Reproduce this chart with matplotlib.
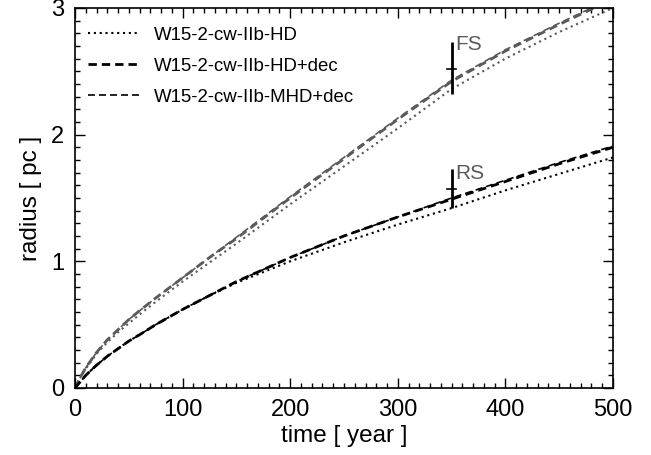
import matplotlib
matplotlib.use("Agg")
import matplotlib.pyplot as plt
from matplotlib.ticker import MultipleLocator

plt.rcParams['font.family'] = ['Liberation Sans', 'DejaVu Sans']

# time [year]
t = [0, 3, 6, 10, 15, 20, 30, 40, 50, 60, 75, 100, 125, 150, 200, 250, 300, 350, 400, 450, 500]
# forward shock radius [pc]
fs_hd = [0, 0.05, 0.10, 0.15, 0.21, 0.27, 0.36, 0.44, 0.51, 0.58, 0.68, 0.84, 0.99, 1.14, 1.45, 1.75, 2.05, 2.36, 2.60, 2.81, 3.00]
fs_hd_dec = [0, 0.05, 0.10, 0.16, 0.22, 0.28, 0.38, 0.46, 0.54, 0.61, 0.71, 0.87, 1.03, 1.18, 1.50, 1.81, 2.12, 2.42, 2.66, 2.87, 3.07]
fs_mhd_dec = [0, 0.05, 0.10, 0.16, 0.22, 0.28, 0.38, 0.46, 0.54, 0.61, 0.71, 0.87, 1.03, 1.19, 1.51, 1.82, 2.13, 2.43, 2.67, 2.88, 3.08]
# reverse shock radius [pc]
rs_hd = [0, 0.03, 0.06, 0.10, 0.14, 0.18, 0.25, 0.31, 0.37, 0.42, 0.50, 0.62, 0.73, 0.83, 1.00, 1.15, 1.29, 1.42, 1.56, 1.69, 1.82]
rs_hd_dec = [0, 0.03, 0.06, 0.10, 0.14, 0.18, 0.25, 0.31, 0.37, 0.42, 0.50, 0.62, 0.73, 0.84, 1.03, 1.20, 1.35, 1.49, 1.63, 1.77, 1.90]
rs_mhd_dec = [0, 0.03, 0.06, 0.10, 0.14, 0.18, 0.25, 0.31, 0.37, 0.42, 0.50, 0.62, 0.73, 0.84, 1.03, 1.20, 1.35, 1.50, 1.64, 1.78, 1.91]

labels = ['W15-2-cw-IIb-HD', 'W15-2-cw-IIb-HD+dec', 'W15-2-cw-IIb-MHD+dec']

# observed shock radii with ranges
obs_t = [350, 350]
obs_r = [2.52, 1.57]
obs_lo = [2.32, 1.42]
obs_hi = [2.73, 1.73]
obs_names = ['FS', 'RS']

fig = plt.figure(figsize=(6.51, 4.55), dpi=100)
ax = fig.add_axes([0.1152, 0.1473, 0.8264, 0.8352])

gray = '#5a5a5a'
dot = (0, (1, 1.8))
dash_thick = (0, (3, 1.8))
dash_thin = (0, (4.2, 2.4))
ax.plot(t, fs_hd, color=gray, lw=1.5, ls=dot)
ax.plot(t, fs_hd_dec, color=gray, lw=2.0, ls=dash_thick)
ax.plot(t, fs_mhd_dec, color=gray, lw=1.2, ls=dash_thin)
ax.plot(t, rs_hd, color='black', lw=1.5, ls=dot)
ax.plot(t, rs_hd_dec, color='black', lw=2.0, ls=dash_thick)
ax.plot(t, rs_mhd_dec, color='black', lw=1.2, ls=dash_thin)

# legend handles (black)
h1, = ax.plot([], [], color='black', lw=1.5, ls=dot)
h2, = ax.plot([], [], color='black', lw=2.0, ls=dash_thick)
h3, = ax.plot([], [], color='black', lw=1.2, ls=dash_thin)
leg = ax.legend([h1, h2, h3], labels, loc='upper left', frameon=False,
                fontsize=13.4, handlelength=2.8, handletextpad=0.75,
                labelspacing=0.75, borderaxespad=0.3, bbox_to_anchor=(0.0, 0.985))

for i in range(2):
    ax.errorbar([obs_t[i]], [obs_r[i]],
                yerr=[[obs_r[i] - obs_lo[i]], [obs_hi[i] - obs_r[i]]],
                fmt='none', ecolor='black', elinewidth=2.0, capsize=0)
    ax.plot([obs_t[i] - 4, obs_t[i] + 4], [obs_r[i], obs_r[i]], color='black', lw=1.2)
ax.text(obs_t[0] + 3, 2.71, obs_names[0], color=gray, fontsize=15, va='center', ha='left')
ax.text(obs_t[1] + 3, 1.69, obs_names[1], color=gray, fontsize=15, va='center', ha='left')

ax.set_xlim(0, 500)
ax.set_ylim(0, 3)
ax.set_xlabel('time [ year ]', fontsize=17.5, labelpad=3)
ax.set_ylabel('radius [ pc ]', fontsize=17.5, labelpad=6)
ax.xaxis.set_major_locator(MultipleLocator(100))
ax.xaxis.set_minor_locator(MultipleLocator(10))
ax.yaxis.set_major_locator(MultipleLocator(1))
ax.yaxis.set_minor_locator(MultipleLocator(0.1))
ax.tick_params(which='both', direction='in', top=True, right=True, labelsize=17)
ax.tick_params(which='major', length=7, width=1.0, pad=8)
ax.tick_params(which='minor', length=3.6, width=1.0)
for s in ax.spines.values():
    s.set_linewidth(1.2)

fig.savefig('out.png', dpi=100)
